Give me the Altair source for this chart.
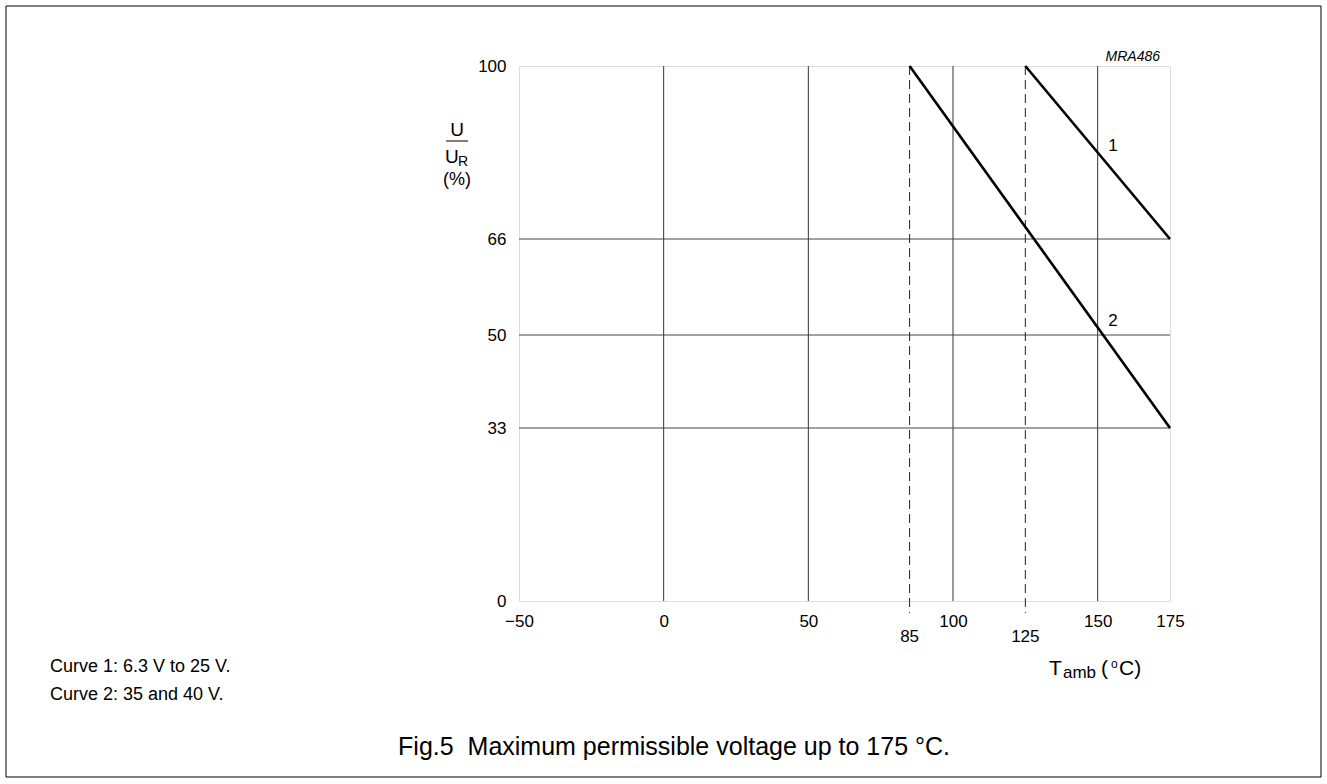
import altair as alt
import pandas as pd

FONT = "Liberation Sans"

# Axis tick values
temp_ticks = [-50, 0, 50, 100, 150, 175]
temp_marks = [85, 125]          # dashed reference temperatures
grid_temps = [0, 50, 100, 150]
volt_ticks = [0, 33, 50, 66, 100]
grid_volts = [33, 50, 66]

# Derating curves: ambient temperature (degC) vs U/UR (%)
curve1_temp = [125, 175]
curve1_volt = [100, 66]
curve2_temp = [85, 175]
curve2_volt = [100, 33]

notes = ["Curve 1: 6.3 V to 25 V.", "Curve 2: 35 and 40 V."]
caption = "Fig.5\u00a0 Maximum permissible voltage up to 175 \u00b0C."

W, H = 651, 535

xscale = alt.Scale(domain=[-50, 175], nice=False, zero=False)
# the printed grid spaces 33/50/66 a little unevenly; follow it piecewise
yscale = alt.Scale(domain=volt_ticks, range=[535, 362, 269, 173, 0], nice=False, zero=False)

xaxis = alt.Axis(values=temp_ticks, ticks=False, domain=False, grid=False, title=None,
                 labelFont=FONT, labelFontSize=17, labelColor="black", labelPadding=12,
                 labelFlush=False, labelOverlap=False)
yaxis = alt.Axis(values=volt_ticks, ticks=False, domain=False, grid=False, title=None,
                 labelFont=FONT, labelFontSize=17, labelColor="black", labelPadding=13,
                 labelFlush=False, labelOverlap=False)

vgrid = alt.Chart(pd.DataFrame({"T": grid_temps})).mark_rule(color="#333", strokeWidth=1).encode(
    x=alt.X("T:Q", scale=xscale, axis=xaxis)
)
hgrid = alt.Chart(pd.DataFrame({"U": grid_volts})).mark_rule(color="#444", strokeWidth=1).encode(
    y=alt.Y("U:Q", scale=yscale, axis=yaxis)
)
dashed = alt.Chart(pd.DataFrame({"T": temp_marks})).mark_rule(
    color="#222", strokeWidth=1, strokeDash=[9, 5]
).encode(x="T:Q", y=alt.value(0), y2=alt.value(547))

dashed_labels = alt.Chart(pd.DataFrame({"T": temp_marks})).mark_text(
    font=FONT, fontSize=17, color="black", baseline="middle"
).encode(x="T:Q", y=alt.value(571), text=alt.Text("T:Q"))

curves_df = pd.concat([
    pd.DataFrame({"curve": "1", "T": curve1_temp, "U": curve1_volt}),
    pd.DataFrame({"curve": "2", "T": curve2_temp, "U": curve2_volt}),
])
curves = alt.Chart(curves_df).mark_line(color="black", strokeWidth=2.6).encode(
    x="T:Q", y="U:Q", detail="curve:N"
)


def label(text, x, y, size, **kw):
    return alt.Chart(pd.DataFrame({"t": [text]})).mark_text(
        font=FONT, fontSize=size, color="black", **kw
    ).encode(x=alt.value(x), y=alt.value(y), text="t:N")


texts = [
    # curve numbers
    label("1", 594, 80, 17, align="center", baseline="middle"),
    label("2", 594, 255, 17, align="center", baseline="middle"),
    # drawing reference
    label("MRA486", 641, -9, 14, align="right", baseline="middle", fontStyle="italic"),
    # y title: U / UR (%)
    label("U", -62, 70, 19, align="center", baseline="alphabetic"),
    label("U", -74, 97, 19, align="left", baseline="alphabetic"),
    label("R", -61, 100, 14, align="left", baseline="alphabetic"),
    label("(%)", -62, 114, 18, align="center", baseline="middle"),
    # x title: Tamb (oC)
    label("T", 530, 609, 21, align="left", baseline="alphabetic"),
    label("amb", 544, 612, 17, align="left", baseline="alphabetic"),
    label("(", 582, 609, 21, align="left", baseline="alphabetic"),
    label("o", 592, 602, 12, align="left", baseline="alphabetic"),
    label("C)", 600, 609, 21, align="left", baseline="alphabetic"),
    # notes and caption
    label(notes[0], -469, 606, 18, align="left", baseline="alphabetic"),
    label(notes[1], -469, 634, 18, align="left", baseline="alphabetic"),
    label(caption, 431, 681, 25, align="right", baseline="middle"),
]

frac_bar = alt.Chart(pd.DataFrame({"k": [0]})).mark_rule(color="black", strokeWidth=1).encode(
    x=alt.value(-73), x2=alt.value(-51), y=alt.value(75)
)
border = alt.Chart(pd.DataFrame({"k": [0]})).mark_rect(
    fill=None, stroke="black", strokeWidth=1
).encode(x=alt.value(-513), x2=alt.value(802), y=alt.value(-60), y2=alt.value(711))

chart = alt.layer(
    vgrid, hgrid, dashed, curves, dashed_labels, frac_bar, border, *texts
).properties(
    width=W, height=H, autosize="none",
    padding={"left": 519, "top": 66, "right": 157, "bottom": 183},
).configure_view(stroke="#444", strokeWidth=1).configure(background="white")

chart.save("out.html", embed_options={"renderer": "svg", "actions": False})
